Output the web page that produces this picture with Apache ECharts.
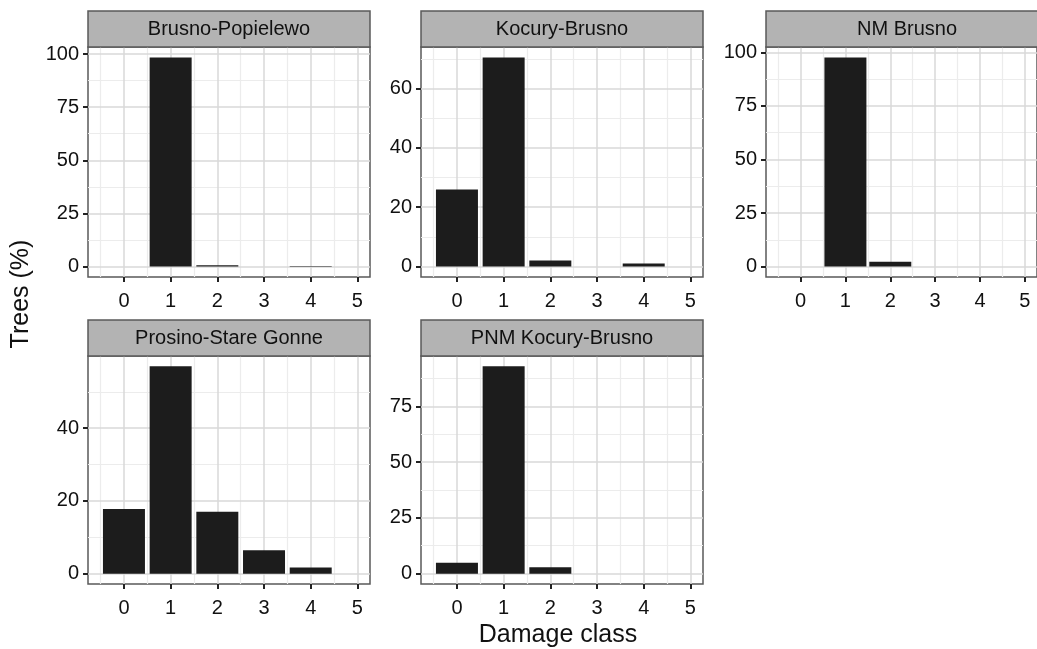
<!DOCTYPE html>
<html>
<head>
<meta charset="utf-8">
<title>Trees by damage class</title>
<script src="https://cdn.jsdelivr.net/npm/echarts@6/dist/echarts.min.js"></script>
<style>
    html, body { margin: 0; padding: 0; background: #fff; }
    #main { width: 1037px; height: 649px; }
</style>
</head>
<body>
<div id="main"></div>
<script>
// damage classes (x) and the ticks / minor grid of the x axis
var damageClass = [0, 1, 2, 3, 4];
var xTicks = [0, 1, 2, 3, 4, 5];
var xMinor = [-0.5, 0.5, 1.5, 2.5, 3.5, 4.5];

var panelNames = ['Brusno-Popielewo', 'Kocury-Brusno', 'NM Brusno', 'Prosino-Stare Gonne', 'PNM Kocury-Brusno'];

// trees (%) per damage class, one array per site
var brusnoPopielewo = [0, 98.4, 0.6, 0, 0.2];
var kocuryBrusno = [26.0, 70.5, 2.0, 0, 1.0];
var nmBrusno = [0, 97.6, 2.2, 0, 0];
var prosinoStareGonne = [17.8, 57.0, 17.0, 6.4, 1.7];
var pnmKocuryBrusno = [4.9, 92.9, 2.9, 0, 0];

// free y scales: tick labels and minor grid of each panel
var yTicks1 = [0, 25, 50, 75, 100];
var yTicks2 = [0, 20, 40, 60];
var yTicks3 = [0, 25, 50, 75, 100];
var yTicks4 = [0, 20, 40];
var yTicks5 = [0, 25, 50, 75];
var yMinor1 = [12.5, 37.5, 62.5, 87.5];
var yMinor2 = [10, 30, 50, 70];
var yMinor3 = [12.5, 37.5, 62.5, 87.5];
var yMinor4 = [10, 30, 50];
var yMinor5 = [12.5, 37.5, 62.5, 87.5];

var values = [brusnoPopielewo, kocuryBrusno, nmBrusno, prosinoStareGonne, pnmKocuryBrusno];
var yTicks = [yTicks1, yTicks2, yTicks3, yTicks4, yTicks5];
var yMinor = [yMinor1, yMinor2, yMinor3, yMinor4, yMinor5];

// panel boxes (px)
var lefts = [88, 421, 766, 88, 421];
var tops = [47, 47, 47, 356, 356];
var heights = [230, 230, 230, 228, 228];
var panelW = 282;
var stripH = 36;

var font = 'Liberation Sans, Arial, sans-serif';
var textCol = '#111';

var grids = [], xAxes = [], yAxes = [], series = [], graphics = [];

for (var i = 0; i < values.length; i++) {
    var vmax = Math.max.apply(null, values[i]);

    grids.push({
        left: lefts[i], top: tops[i], width: panelW, height: heights[i],
        show: true, borderColor: '#5a5a5a', borderWidth: 1.5, backgroundColor: 'transparent'
    });

    // minor x grid
    xAxes.push({
        type: 'value', gridIndex: i, position: 'bottom', min: -0.77, max: 5.27, z: 0,
        axisLine: {show: false, onZero: false},
        axisTick: {show: false, customValues: xMinor},
        axisLabel: {show: false, customValues: xMinor},
        splitLine: {show: true, lineStyle: {color: '#ececec', width: 1.2}}
    });
    // major x axis
    xAxes.push({
        type: 'value', gridIndex: i, position: 'bottom', min: -0.77, max: 5.27, z: 1,
        axisLine: {show: false, onZero: false},
        axisTick: {show: true, customValues: xTicks, length: 5, lineStyle: {color: '#222', width: 2}},
        axisLabel: {customValues: xTicks, fontSize: 20, fontFamily: font, color: textCol, margin: 14},
        splitLine: {show: true, lineStyle: {color: '#d8d8d8', width: 1.5}}
    });

    yAxes.push({
        type: 'value', gridIndex: i, position: 'left', min: -0.05 * vmax, max: 1.05 * vmax, z: 0,
        axisLine: {show: false, onZero: false},
        axisTick: {show: false, customValues: yMinor[i]},
        axisLabel: {show: false, customValues: yMinor[i]},
        splitLine: {show: true, lineStyle: {color: '#ececec', width: 1.2}}
    });
    yAxes.push({
        type: 'value', gridIndex: i, position: 'left', min: -0.05 * vmax, max: 1.05 * vmax, z: 1,
        axisLine: {show: false, onZero: false},
        axisTick: {show: true, customValues: yTicks[i], length: 5, lineStyle: {color: '#222', width: 2}},
        axisLabel: {customValues: yTicks[i], fontSize: 20, fontFamily: font, color: textCol, margin: 9},
        splitLine: {show: true, lineStyle: {color: '#d8d8d8', width: 1.5}}
    });

    series.push({
        name: panelNames[i],
        type: 'bar',
        xAxisIndex: 2 * i + 1,
        yAxisIndex: 2 * i + 1,
        barWidth: 42,
        z: 3,
        itemStyle: {color: '#1c1c1c'},
        data: damageClass.map(function (c, k) { return [c, values[i][k]]; })
    });

    // strip on top of every panel
    graphics.push({
        type: 'rect', z: 10,
        shape: {x: lefts[i], y: tops[i] - stripH, width: panelW, height: stripH},
        style: {fill: '#b3b3b3', stroke: '#5a5a5a', lineWidth: 1.5}
    });
    graphics.push({
        type: 'text', z: 11,
        x: lefts[i] + panelW / 2, y: tops[i] - stripH / 2,
        style: {
            text: panelNames[i], fill: textCol, font: '20px ' + font,
            textAlign: 'center', textVerticalAlign: 'middle', align: 'center', verticalAlign: 'middle'
        }
    });
}

// axis titles
graphics.push({
    type: 'text', x: 21, y: 294, rotation: Math.PI / 2,
    style: {
        text: 'Trees (%)', fill: textCol, font: '25px ' + font,
        textAlign: 'center', textVerticalAlign: 'middle', align: 'center', verticalAlign: 'middle'
    }
});
graphics.push({
    type: 'text', x: 558, y: 635,
    style: {
        text: 'Damage class', fill: textCol, font: '25px ' + font,
        textAlign: 'center', textVerticalAlign: 'middle', align: 'center', verticalAlign: 'middle'
    }
});

var chart = echarts.init(document.getElementById('main'));
chart.setOption({
    animation: false,
    backgroundColor: '#fff',
    grid: grids,
    xAxis: xAxes,
    yAxis: yAxes,
    series: series,
    graphic: graphics
});
</script>
</body>
</html>
